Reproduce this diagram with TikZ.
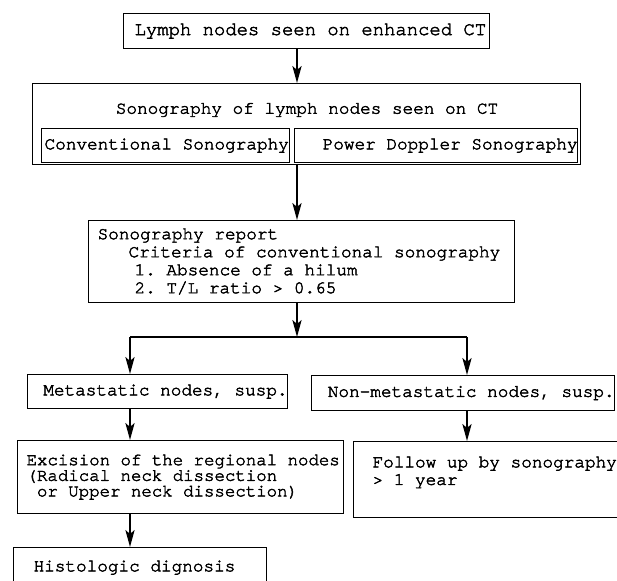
\documentclass[tikz,border=0pt]{standalone}
\usepackage{fontspec}
\setmonofont{TeX Gyre Cursor}[FakeBold=2.5]
\usepackage{tikz}
\usetikzlibrary{arrows.meta,positioning}

\begin{document}
\begin{tikzpicture}[x=0.5pt, y=-0.5pt,
  box/.style={draw, line width=0.6pt, shape=rectangle, anchor=north west, inner sep=0pt, align=left,
    font=\ttfamily\frenchspacing\fontsize{8.85}{8.8}\selectfont,
    execute at begin node={\spaceskip=0.6em plus 0pt minus 0pt\relax}},
  arr/.style={line width=0.75pt, -{Stealth[length=8.5pt, width=4.6pt, inset=2pt]}}]
\clip (0,0) rectangle (617,580);
\node[box, text width=183pt, minimum height=17.5pt, font=\ttfamily\frenchspacing\fontsize{9.45}{9}\selectfont] (1) at (123,13)
  {\hspace*{5.5pt}Lymph nodes seen on enhanced CT};
\node[box, minimum width=274pt, minimum height=40.5pt] (2) at (32,83) {};
\node[box, draw=none, anchor=center] (3) at (307,110) {Sonography of lymph nodes seen on CT};
\node[box, text width=124pt, minimum height=17pt] (4) at (41,128) {\hspace*{1.5pt}Conventional Sonography};
\node[box, text width=141.5pt, minimum height=17pt, align=right] (5) at (294,128) {Power Doppler Sonography\hspace*{2.5pt}};
\node[box, text width=213pt, minimum height=41pt, font=\ttfamily\frenchspacing\fontsize{8.85}{9}\selectfont] (6) at (88,220)
  {\hspace*{4.5pt}Sonography report\\
   \hspace*{20pt}Criteria of conventional sonography\\
   \hspace*{23pt}1. Absence of a hilum\\
   \hspace*{23pt}2. T/L ratio > 0.65};
\node[box, text width=130pt, minimum height=17pt, align=right] (7) at (27,374) {Metastatic nodes, susp.\hspace*{1pt}};
\node[box, text width=151.5pt, minimum height=17.5pt, align=right] (8) at (311,375) {Non-metastatic nodes, susp.\hspace*{1.5pt}};
\node[box, text width=163pt, minimum height=36.5pt, font=\ttfamily\frenchspacing\fontsize{8.7}{7.8}\selectfont] (9) at (17,440)
  {\hspace*{4.5pt}Excision of the regional nodes\\
   \hspace*{4.5pt}(Radical neck dissection\\
   \hspace*{9.7pt}or Upper neck dissection)};
\node[box, text width=160pt, minimum height=38pt] (10) at (353,441)
  {\hspace*{9.5pt}Follow up by sonography\\
   \hspace*{9.5pt}> 1 year\\
   \mbox{}};
\node[box, text width=126.5pt, minimum height=20pt] (11) at (13,547) {\hspace*{10pt}Histologic dignosis};
\coordinate (s) at (297,337);
\coordinate (sl) at (130,337);
\coordinate (sr) at (467,337);
\draw[arr] (1.south -| s) -- (2.north -| s);
\draw[arr] (2.south -| s) -- (6.north -| s);
\draw[arr] (6.south -| s) -- (s);
\draw[line width=0.75pt] (sl) -- (sr);
\draw[arr] (sl) -- (7.north -| sl);
\draw[arr] (sr) -- (8.north -| sr);
\draw[arr] (7.south -| sl) -- (9.north -| sl);
\draw[arr] (8.south -| sr) -- (10.north -| sr);
\draw[arr] (9.south -| sl) -- (11.north -| sl);
\end{tikzpicture}
\end{document}
